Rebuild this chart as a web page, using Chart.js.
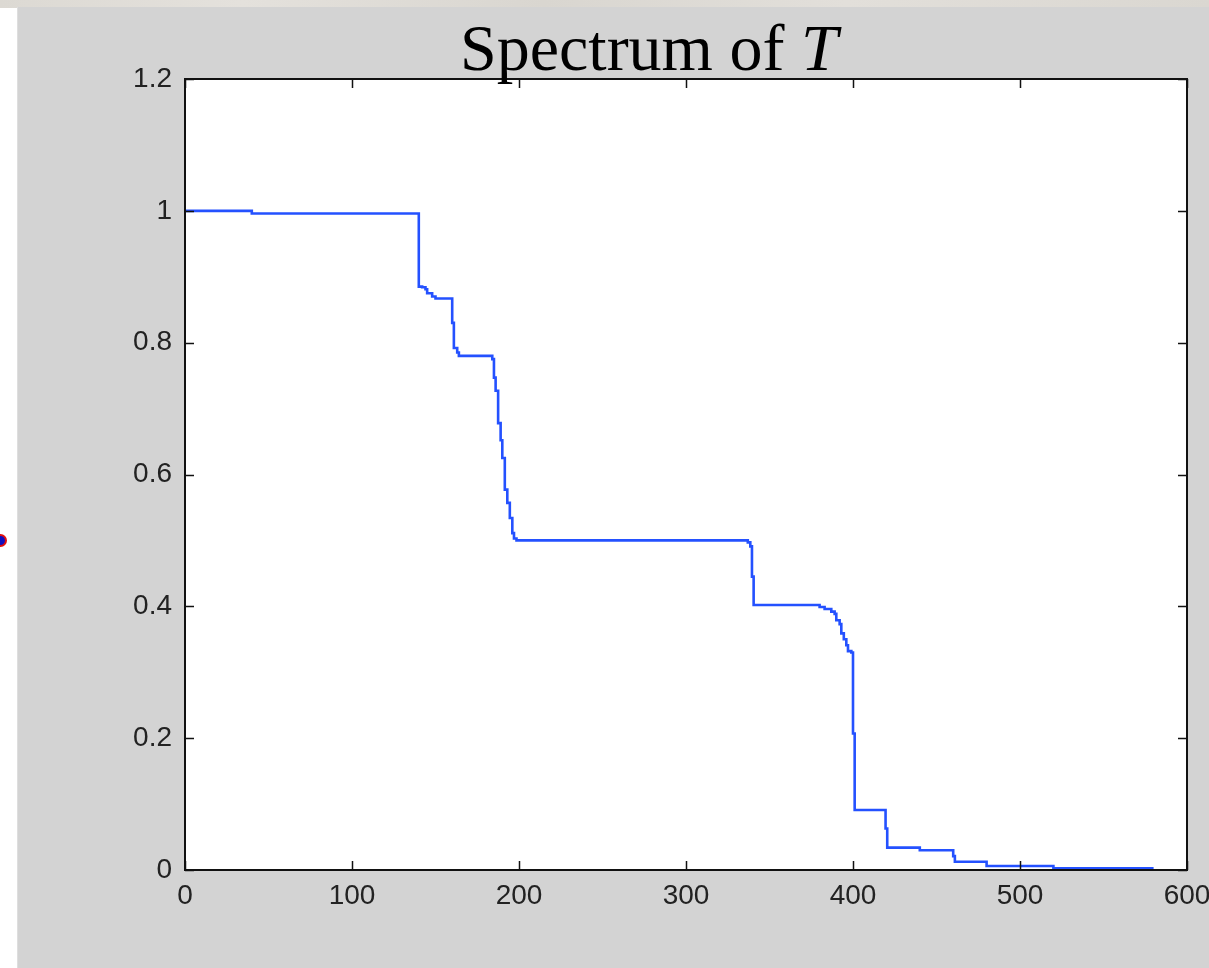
<!DOCTYPE html>
<html>
<head>
<meta charset="utf-8">
<script src="https://cdn.jsdelivr.net/npm/chart.js@4.4.0/dist/chart.umd.min.js"></script>
<style>
  html, body { margin: 0; padding: 0; background: #ffffff; }
  body { width: 1209px; height: 968px; position: relative; overflow: hidden; }
  #topstrip { position: absolute; left: 0; top: 0; width: 1209px; height: 8px;
    background: linear-gradient(90deg, #dcd9d3, #e4e1dc 20%, #d9d6d0 45%, #e2dfda 70%, #dad7d1); }
  #panel { position: absolute; left: 17px; top: 7px; width: 1192px; height: 961px; background: #d3d3d3;
    border-left: 1px solid #dedede; box-sizing: border-box; }
  #marker { position: absolute; left: -6px; top: 534px; width: 9px; height: 9px; border-radius: 50%;
    border: 2px solid #e01010; background: #1010c0; }
  #title { position: absolute; left: 460px; top: 15px; font-family: "Liberation Serif", "Times New Roman", serif;
    font-size: 66px; line-height: 66px; color: #000; white-space: nowrap; z-index: 3; }
  #title i { font-style: italic; }
  #wrap { position: absolute; left: 0; top: 0; width: 1209px; height: 968px; z-index: 2; }
</style>
</head>
<body>
<div id="topstrip"></div>
<div id="panel"></div>
<div id="marker"></div>
<div id="wrap"><canvas id="c" width="1209" height="968"></canvas></div>
<div id="title">Spectrum of <i>T</i></div>
<script>
// Step points: at each x the curve drops to the new y value
const stepX = [0, 40, 140, 142, 144, 145, 148, 150, 160, 161, 163, 164, 184, 185, 186, 187.5, 189, 190, 191.5, 193, 194.5, 196, 197, 198.5,
  337, 338.5, 339.5, 340.5, 380, 383, 387, 389, 390, 392, 393, 394.5, 396, 397, 399, 400, 401, 419.5, 420.5, 440, 460, 461, 480, 520, 580];
const stepY = [1.0, 0.996, 0.885, 0.884, 0.881, 0.875, 0.870, 0.867, 0.830, 0.792, 0.785, 0.780, 0.775, 0.747, 0.727, 0.678, 0.652, 0.625, 0.577, 0.557, 0.534, 0.511, 0.503, 0.500,
  0.497, 0.491, 0.445, 0.402, 0.399, 0.396, 0.392, 0.3885, 0.379, 0.373, 0.359, 0.350, 0.341, 0.332, 0.330, 0.207, 0.091, 0.063, 0.034, 0.030, 0.021, 0.0126, 0.006, 0.0025, 0.0025];
const xTickLabels = ['0', '100', '200', '300', '400', '500', '600'];
const yTickLabels = ['0', '0.2', '0.4', '0.6', '0.8', '1', '1.2'];

const points = stepX.map((x, i) => ({ x: x, y: stepY[i] }));

const frame = {
  id: 'matlabFrame',
  beforeDatasetsDraw(chart) {
    const { ctx, chartArea: a } = chart;
    ctx.save();
    ctx.fillStyle = '#ffffff';
    ctx.fillRect(a.left, a.top, a.right - a.left, a.bottom - a.top);
    ctx.restore();
  },
  afterDraw(chart) {
    const { ctx, chartArea: a } = chart;
    const xs = chart.scales.x, ys = chart.scales.y;
    ctx.save();
    ctx.strokeStyle = '#111111';
    ctx.lineWidth = 1.5;
    ctx.beginPath();
    xs.ticks.forEach(t => {
      const px = Math.round(xs.getPixelForValue(t.value)) + 0.5;
      ctx.moveTo(px, a.bottom); ctx.lineTo(px, a.bottom - 9);
      ctx.moveTo(px, a.top); ctx.lineTo(px, a.top + 9);
    });
    ys.ticks.forEach(t => {
      const py = Math.round(ys.getPixelForValue(t.value)) + 0.5;
      ctx.moveTo(a.left, py); ctx.lineTo(a.left + 9, py);
      ctx.moveTo(a.right, py); ctx.lineTo(a.right - 9, py);
    });
    ctx.stroke();
    ctx.lineWidth = 2;
    ctx.strokeRect(a.left, a.top, a.right - a.left, a.bottom - a.top);
    ctx.restore();
  }
};

new Chart(document.getElementById('c'), {
  type: 'line',
  data: {
    datasets: [{
      data: points,
      stepped: true,
      borderColor: '#2451ff',
      borderWidth: 2.6,
      pointRadius: 0,
      fill: false,
      tension: 0
    }]
  },
  options: {
    responsive: false,
    animation: false,
    events: [],
    layout: { padding: { left: 0, top: 79, right: 22, bottom: 38 } },
    plugins: { legend: { display: false }, tooltip: { enabled: false }, title: { display: false } },
    scales: {
      x: {
        type: 'linear', min: 0, max: 600,
        grid: { display: false, drawTicks: false },
        border: { display: false },
        ticks: {
          stepSize: 100, padding: 9, color: '#222222', maxRotation: 0, autoSkip: false,
          font: { family: '"Liberation Sans", Arial, sans-serif', size: 28 },
          callback: (v, i) => xTickLabels[i]
        },
        afterFit(s) { s.height = 60; s.paddingLeft = 0; s.paddingRight = 0; }
      },
      y: {
        type: 'linear', min: 0, max: 1.2,
        grid: { display: false, drawTicks: false },
        border: { display: false },
        ticks: {
          stepSize: 0.2, padding: 13, color: '#222222', autoSkip: false,
          font: { family: '"Liberation Sans", Arial, sans-serif', size: 28 },
          callback: (v, i) => yTickLabels[i]
        },
        afterFit(s) { s.width = 185; s.paddingTop = 0; s.paddingBottom = 0; }
      }
    }
  },
  plugins: [frame]
});
</script>
</body>
</html>
